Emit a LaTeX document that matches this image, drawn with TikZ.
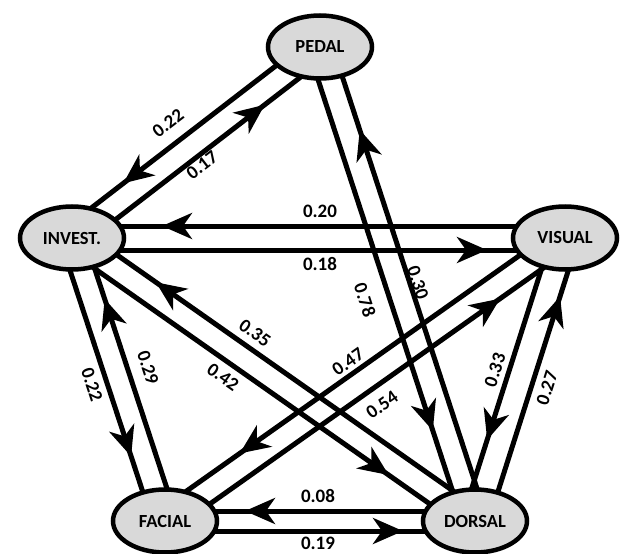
\documentclass[tikz,border=0pt]{standalone}
\usepackage{fontspec}
\setmainfont{Carlito}
\usetikzlibrary{shapes.geometric,arrows.meta,decorations.markings,calc}
\pgfdeclarelayer{bg}
\pgfsetlayers{bg,main}
\definecolor{nodegray}{RGB}{217,217,217}
\tikzset{
  state/.style={ellipse, draw, line width=4.5pt, fill=nodegray, minimum width=104pt,
    minimum height=63pt, inner sep=0pt, font=\fontsize{18.5}{20}\selectfont\bfseries},
  lbl/.style={font=\fontsize{19}{20}\selectfont\bfseries, inner sep=0pt},
  link/.style={line width=5pt},
  tipat/.style={postaction={decorate}, decoration={markings,
    mark=at position -#1 with {\arrow{Stealth[length=30pt,width=26pt,inset=9pt]}}}}
}
\begin{document}
\begin{tikzpicture}[x=1pt,y=-1pt]
\useasboundingbox (0,0) rectangle (625,554);
\node[state] (pedal)  at (320,47)  {PEDAL};
\node[state] (invest) at (72,238)  {INVEST.};
\node[state] (visual) at (565,238) {VISUAL};
\node[state] (facial) at (165,521) {FACIAL};
\node[state] (dorsal) at (475,521) {DORSAL};
\begin{pgfonlayer}{bg}
% invest - pedal
\draw[link, tipat=74pt] ($(pedal)!12pt!-90:(invest)$) -- ($(invest)!12pt!90:(pedal)$);
\draw[link, tipat=79pt] ($(invest)!12pt!-90:(pedal)$) -- ($(pedal)!12pt!90:(invest)$);
% invest - visual
\draw[link, tipat=90pt] ($(visual)!12pt!-90:(invest)$) -- ($(invest)!12pt!90:(visual)$);
\draw[link, tipat=78pt] ($(invest)!12pt!-90:(visual)$) -- ($(visual)!12pt!90:(invest)$);
% pedal - dorsal
\draw[link, tipat=99pt] ($(pedal)!12pt!-90:(dorsal)$) -- ($(dorsal)!12pt!90:(pedal)$);
\draw[link, tipat=91pt] ($(dorsal)!12pt!-90:(pedal)$) -- ($(pedal)!12pt!90:(dorsal)$);
% visual - facial
\draw[link, tipat=100pt] ($(visual)!12pt!-90:(facial)$) -- ($(facial)!12pt!90:(visual)$);
\draw[link, tipat=88pt] ($(facial)!12pt!-90:(visual)$) -- ($(visual)!12pt!90:(facial)$);
% invest - dorsal
\draw[link, tipat=97pt] ($(invest)!12pt!-90:(dorsal)$) -- ($(dorsal)!12pt!90:(invest)$);
\draw[link, tipat=94pt] ($(dorsal)!12pt!-90:(invest)$) -- ($(invest)!12pt!90:(dorsal)$);
% invest - facial
\draw[link, tipat=72pt] ($(invest)!12pt!-90:(facial)$) -- ($(facial)!12pt!90:(invest)$);
\draw[link, tipat=68pt] ($(facial)!12pt!-90:(invest)$) -- ($(invest)!12pt!90:(facial)$);
% visual - dorsal
\draw[link, tipat=81pt] ($(visual)!13pt!-90:(dorsal)$) -- ($(dorsal)!13pt!90:(visual)$);
\draw[link, tipat=57pt] ($(dorsal)!13pt!-90:(visual)$) -- ($(visual)!13pt!90:(dorsal)$);
% facial - dorsal
\draw[link, tipat=80pt] ($(dorsal)!10pt!-90:(facial)$) -- ($(facial)!10pt!90:(dorsal)$);
\draw[link, tipat=72pt] ($(facial)!10pt!-90:(dorsal)$) -- ($(dorsal)!10pt!90:(facial)$);
\end{pgfonlayer}
% labels
\node[lbl, rotate=37.6] (l1) at (168,123) {0.22};
\node[lbl, rotate=37.6] (l2) at (202,165) {0.17};
\node[lbl] (l3) at (320,211) {0.20};
\node[lbl] (l4) at (320,264) {0.18};
\node[lbl, rotate=-71.9] (l5) at (365,300) {0.78};
\node[lbl, rotate=-71.9] (l6) at (418,283) {0.30};
\node[lbl, rotate=35.3] (l7) at (348,362) {0.47};
\node[lbl, rotate=35.3] (l8) at (382,405) {0.54};
\node[lbl, rotate=-35.1] (l9) at (255,333) {0.35};
\node[lbl, rotate=-35.1] (l10) at (223,377) {0.42};
\node[lbl, rotate=-71.8] (l11) at (92,385) {0.22};
\node[lbl, rotate=-71.8] (l12) at (148,368) {0.29};
\node[lbl, rotate=72.4] (l13) at (495,370) {0.33};
\node[lbl, rotate=72.4] (l14) at (547,388) {0.27};
\node[lbl] (l15) at (318,496) {0.08};
\node[lbl] (l16) at (318,543) {0.19};
\end{tikzpicture}
\end{document}
